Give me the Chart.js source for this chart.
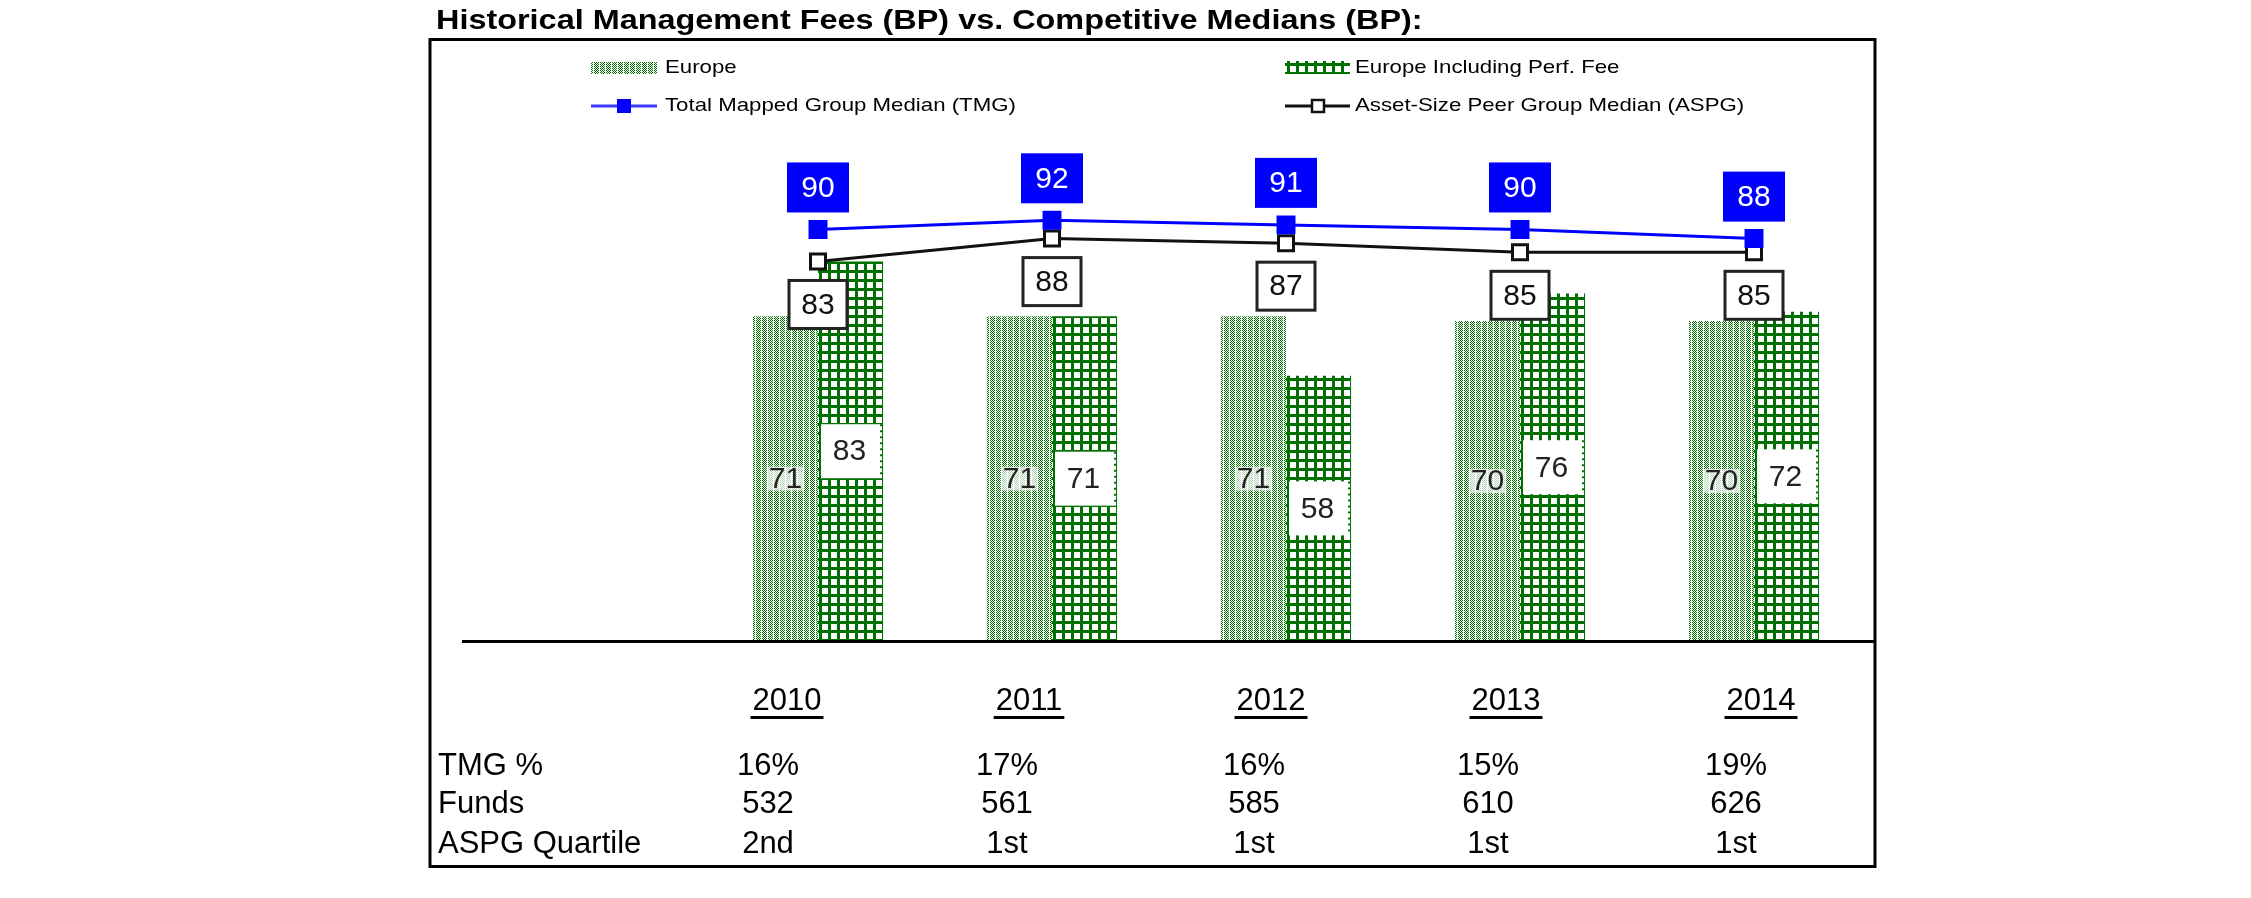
<!DOCTYPE html>
<html>
<head>
<meta charset="utf-8">
<script src="https://cdn.jsdelivr.net/npm/chart.js@4"></script>
<style>html,body{margin:0;padding:0;background:#fff;}canvas{display:block;}</style>
</head>
<body>
<canvas id="c" width="2251" height="898"></canvas>
<script>
// ---- data ----
const categories = ['2010', '2011', '2012', '2013', '2014'];
const europe = [71, 71, 71, 70, 70];
const europeIncl = [83, 71, 58, 76, 72];
const tmgMedian = [90, 92, 91, 90, 88];
const aspgMedian = [83, 88, 87, 85, 85];
const rowLabels = ['TMG %', 'Funds', 'ASPG Quartile'];
const tmgPct = ['16%', '17%', '16%', '15%', '19%'];
const funds = ['532', '561', '585', '610', '626'];
const aspgQuartile = ['2nd', '1st', '1st', '1st', '1st'];
const seriesNames = ['Europe', 'Europe Including Perf. Fee', 'Total Mapped Group Median (TMG)', 'Asset-Size Peer Group Median (ASPG)'];
const titleText = 'Historical Management Fees (BP) vs. Competitive Medians (BP):';

// ---- styles / layout ----
const FONT = '"Liberation Sans", Arial, sans-serif';
const GREEN = '#007000';
const BLUE = '#0000ff';
const yearX = [787, 1029, 1271, 1506, 1761];
const valX = [768, 1007, 1254, 1488, 1736];
const rowY = [766, 804, 844];

function makeDots() {
  const c = document.createElement('canvas'); c.width = 6; c.height = 4;
  const x = c.getContext('2d');
  x.fillStyle = '#fff'; x.fillRect(0, 0, 6, 4);
  x.fillStyle = GREEN;
  for (let yy = 0; yy < 4; yy++) {
    for (let xx = 0; xx < 5; xx++) {
      if ((xx + yy) % 2 === 0) x.fillRect(xx, yy, 1, 1);
    }
  }
  return x.createPattern(c, 'repeat');
}
function makeGrid() {
  const c = document.createElement('canvas'); c.width = 9; c.height = 9;
  const x = c.getContext('2d');
  x.fillStyle = '#fff'; x.fillRect(0, 0, 9, 9);
  x.fillStyle = GREEN; x.fillRect(0, 0, 3, 9); x.fillRect(0, 0, 9, 3);
  return x.createPattern(c, 'repeat');
}
const dotPat = makeDots();
const gridPat = makeGrid();

function txt(ctx, s, x, y, font, color, align, base, sx) {
  ctx.save();
  ctx.font = font; ctx.fillStyle = color;
  ctx.textAlign = align || 'left'; ctx.textBaseline = base || 'middle';
  ctx.translate(x, y); ctx.scale(sx || 1, 1);
  ctx.fillText(s, 0, 0);
  ctx.restore();
}

const decor = {
  id: 'decor',
  beforeDraw(chart) {
    const ctx = chart.ctx;
    ctx.save();
    ctx.fillStyle = '#fff'; ctx.fillRect(0, 0, chart.width, chart.height);
    // title
    txt(ctx, titleText, 436, 29, 'bold 27px ' + FONT, '#000', 'left', 'alphabetic', 1.2);
    // frame
    ctx.strokeStyle = '#000'; ctx.lineWidth = 3;
    ctx.strokeRect(430, 39.5, 1445, 827);
    // legend
    const lf = '19px ' + FONT, sx = 1.17;
    ctx.fillStyle = dotPat; ctx.fillRect(591, 62, 66, 12);
    txt(ctx, seriesNames[0], 665, 68, lf, '#000', 'left', 'middle', sx);
    ctx.fillStyle = gridPat; ctx.fillRect(1285, 61, 65, 13);
    txt(ctx, seriesNames[1], 1355, 68, lf, '#000', 'left', 'middle', sx);
    ctx.strokeStyle = '#3a3aff'; ctx.lineWidth = 3;
    ctx.beginPath(); ctx.moveTo(591, 106); ctx.lineTo(657, 106); ctx.stroke();
    ctx.fillStyle = BLUE; ctx.fillRect(617, 99, 14, 14);
    txt(ctx, seriesNames[2], 665, 106, lf, '#000', 'left', 'middle', sx);
    ctx.strokeStyle = '#111'; ctx.lineWidth = 3;
    ctx.beginPath(); ctx.moveTo(1285, 106); ctx.lineTo(1350, 106); ctx.stroke();
    ctx.fillStyle = '#fff'; ctx.fillRect(1312, 100, 12, 12);
    ctx.lineWidth = 2.5; ctx.strokeRect(1312, 100, 12, 12);
    txt(ctx, seriesNames[3], 1355, 106, lf, '#000', 'left', 'middle', sx);
    // table
    const tf = '31px ' + FONT;
    ctx.font = tf;
    categories.forEach((c, i) => {
      txt(ctx, c, yearX[i], 701, tf, '#000', 'center', 'middle');
      const w = ctx.measureText(c).width;
      ctx.fillStyle = '#000';
      ctx.fillRect(yearX[i] - w / 2 - 2, 716, w + 4, 3);
    });
    rowLabels.forEach((r, k) => txt(ctx, r, 438, rowY[k], tf, '#000', 'left', 'middle'));
    [tmgPct, funds, aspgQuartile].forEach((row, k) => {
      row.forEach((v, i) => txt(ctx, v, valX[i], rowY[k], tf, '#000', 'center', 'middle'));
    });
    ctx.restore();
  },
  afterDatasetsDraw(chart) {
    const ctx = chart.ctx;
    const yb = chart.scales.y.getPixelForValue(0);
    ctx.save();
    // axis line
    ctx.fillStyle = '#000';
    ctx.fillRect(462, yb - 1, 1413, 3);
    const lf = '30px ' + FONT;
    // Europe labels
    chart.getDatasetMeta(0).data.forEach((b, i) => {
      const cy = (b.y + b.base) / 2;
      ctx.font = lf;
      const w = ctx.measureText(String(europe[i])).width;
      ctx.globalAlpha = 0.7; ctx.fillStyle = '#fff';
      ctx.fillRect(b.x - w / 2 - 2, cy - 12, w + 4, 24);
      ctx.globalAlpha = 1;
      txt(ctx, String(europe[i]), b.x, cy + 1, lf, '#222', 'center', 'middle');
    });
    // Europe incl labels
    chart.getDatasetMeta(1).data.forEach((b, i) => {
      const cy = (b.y + b.base) / 2;
      const l = b.x - b.width / 2 + 3, r = b.x + b.width / 2 - 1;
      ctx.fillStyle = '#fff'; ctx.fillRect(l, cy - 27, r - l, 54);
      ctx.strokeStyle = GREEN; ctx.lineWidth = 2; ctx.setLineDash([2, 4]);
      ctx.beginPath(); ctx.moveTo(r - 1, cy - 27); ctx.lineTo(r - 1, cy + 27); ctx.stroke();
      ctx.setLineDash([]);
      txt(ctx, String(europeIncl[i]), (l + r) / 2 - 2, cy + 1, lf, '#222', 'center', 'middle');
    });
    // ASPG labels
    chart.getDatasetMeta(3).data.forEach((p, i) => {
      const cy = p.y + 43;
      ctx.fillStyle = '#fff'; ctx.fillRect(p.x - 29, cy - 24, 58, 48);
      ctx.strokeStyle = '#222'; ctx.lineWidth = 3; ctx.strokeRect(p.x - 29, cy - 24, 58, 48);
      txt(ctx, String(aspgMedian[i]), p.x, cy + 1, lf, '#111', 'center', 'middle');
    });
    // TMG labels
    chart.getDatasetMeta(2).data.forEach((p, i) => {
      const cy = p.y - 42;
      ctx.fillStyle = BLUE; ctx.fillRect(p.x - 31, cy - 25, 62, 50);
      txt(ctx, String(tmgMedian[i]), p.x, cy + 1, lf, '#fff', 'center', 'middle');
    });
    ctx.restore();
  }
};

new Chart(document.getElementById('c'), {
  type: 'bar',
  data: {
    labels: categories,
    datasets: [
      { label: seriesNames[0], data: europe, backgroundColor: dotPat, borderWidth: 0, order: 2,
        categoryPercentage: 0.556, barPercentage: 1.0 },
      { label: seriesNames[1], data: europeIncl, backgroundColor: gridPat, borderWidth: 0, order: 3,
        categoryPercentage: 0.556, barPercentage: 1.0 },
      { type: 'line', label: seriesNames[2], data: tmgMedian, borderColor: BLUE, borderWidth: 3,
        backgroundColor: BLUE, pointStyle: 'rect', pointRadius: 13.4, pointBorderWidth: 0,
        pointBackgroundColor: BLUE, tension: 0, order: 0 },
      { type: 'line', label: seriesNames[3], data: aspgMedian, borderColor: '#111', borderWidth: 3,
        pointStyle: 'rect', pointRadius: 10.6, pointBorderWidth: 3, pointBorderColor: '#111',
        pointBackgroundColor: '#fff', tension: 0, order: 1 }
    ]
  },
  options: {
    responsive: false,
    devicePixelRatio: 1,
    animation: false,
    layout: { padding: { left: 701, right: 380, top: 138, bottom: 257 } },
    plugins: { legend: { display: false }, title: { display: false }, tooltip: { enabled: false } },
    scales: {
      x: { display: false, offset: true, grid: { display: false } },
      y: { display: false, min: 0, max: 110, grid: { display: false } }
    }
  },
  plugins: [decor]
});
</script>
</body>
</html>
